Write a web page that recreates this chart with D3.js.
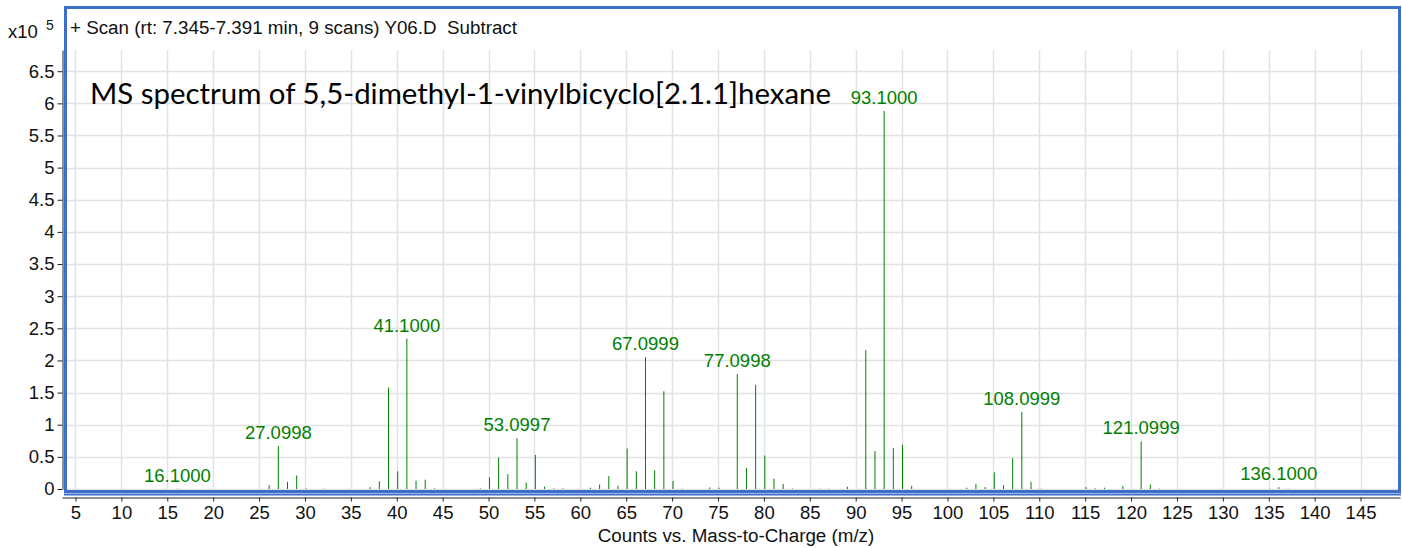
<!DOCTYPE html>
<html>
<head>
<meta charset="utf-8">
<script src="https://cdn.jsdelivr.net/npm/d3@7"></script>
<style>
  body { margin: 0; background: #fff; }
  svg { display: block; font-family: "Liberation Sans", Arial, sans-serif; }
</style>
</head>
<body>
<div class="chart"></div>
<script>
// peak list (m/z, counts in units of 1e5)
var mzValues = [16.1000, 26.1, 27.0998, 28.1, 29.1, 30.1, 32.1,
  37.1, 38.1, 39.1, 40.1, 41.1000, 42.1, 43.1, 44.1,
  49.1, 50.1, 51.1, 52.1, 53.0997, 54.1, 55.1, 56.1, 57.1, 58.1,
  61.1, 62.1, 63.1, 64.1, 65.1, 66.1, 67.0999, 68.1, 69.1, 70.1, 71.1,
  74.1, 75.1, 77.0998, 78.1, 79.1, 80.1, 81.1, 82.1, 83.1, 86.1, 87.1, 89.1,
  91.1, 92.1, 93.1000, 94.1, 95.1, 96.1,
  102.1, 103.1, 104.1, 105.1, 106.1, 107.1, 108.0999, 109.1, 110.1,
  115.1, 116.1, 117.1, 119.1, 121.0999, 122.1, 123.1,
  135.1, 136.1000, 137.1];
var intensities = [0.004, 0.06, 0.67, 0.11, 0.21, 0.01, 0.005,
  0.03, 0.12, 1.58, 0.275, 2.34, 0.13, 0.145, 0.01,
  0.01, 0.18, 0.49, 0.23, 0.79, 0.10, 0.53, 0.036, 0.01, 0.01,
  0.02, 0.07, 0.20, 0.05, 0.63, 0.275, 2.05, 0.29, 1.52, 0.125, 0.005,
  0.025, 0.02, 1.79, 0.33, 1.62, 0.52, 0.16, 0.08, 0.008, 0.005, 0.005, 0.035,
  2.16, 0.59, 5.88, 0.64, 0.69, 0.05,
  0.02, 0.08, 0.03, 0.26, 0.06, 0.48, 1.20, 0.11, 0.005,
  0.03, 0.01, 0.02, 0.045, 0.74, 0.07, 0.005,
  0.005, 0.03, 0.005];
var labelledPeaks = ["16.1000", "27.0998", "41.1000", "53.0997", "67.0999",
  "77.0998", "93.1000", "108.0999", "121.0999", "136.1000"];
var xTicks = [5, 10, 15, 20, 25, 30, 35, 40, 45, 50, 55, 60, 65, 70, 75,
  80, 85, 90, 95, 100, 105, 110, 115, 120, 125, 130, 135, 140, 145];
var yTicks = [0, 0.5, 1, 1.5, 2, 2.5, 3, 3.5, 4, 4.5, 5, 5.5, 6, 6.5];

var svgWidth = 1402;
var svgHeight = 548;
var green = "#008000";
var textSize = 18.5;

var svg = d3.select(".chart")
  .append("svg")
  .attr("width", svgWidth)
  .attr("height", svgHeight);

var x = d3.scaleLinear().domain([3.53, 149.3]).range([62, 1400]);
var y = d3.scaleLinear().domain([0, 6.83]).range([489, 50]);

// grid
svg.append("g").selectAll("line")
  .data(xTicks)
  .enter().append("line")
    .attr("x1", function(d) { return Math.round(x(d)) + 0.5; })
    .attr("x2", function(d) { return Math.round(x(d)) + 0.5; })
    .attr("y1", 50)
    .attr("y2", 490)
    .attr("stroke", "#e2e2e2")
    .attr("stroke-width", 1.5);

svg.append("g").selectAll("line")
  .data(yTicks)
  .enter().append("line")
    .attr("x1", 67)
    .attr("x2", 1398)
    .attr("y1", function(d) { return Math.round(y(d)) + 0.5; })
    .attr("y2", function(d) { return Math.round(y(d)) + 0.5; })
    .attr("stroke", "#e2e2e2")
    .attr("stroke-width", 1.5);

// peaks
var peaks = mzValues.map(function(mz, i) { return { mz: mz, v: intensities[i] }; });

svg.append("g").selectAll("line")
  .data(peaks)
  .enter().append("line")
    .attr("x1", function(d) { return x(d.mz); })
    .attr("x2", function(d) { return x(d.mz); })
    .attr("y1", y(0))
    .attr("y2", function(d) { return y(d.v); })
    .attr("stroke", green)
    .attr("stroke-width", 1);

svg.append("g").selectAll("text")
  .data(peaks.filter(function(d) { return labelledPeaks.indexOf(d.mz.toFixed(4)) >= 0; }))
  .enter().append("text")
    .attr("x", function(d) { return x(d.mz); })
    .attr("y", function(d) { return y(d.v) - 7; })
    .attr("text-anchor", "middle")
    .attr("font-size", textSize)
    .attr("fill", green)
    .text(function(d) { return d.mz.toFixed(4); });

// blue pane frame
svg.append("rect")
  .attr("x", 65.5)
  .attr("y", 7.5)
  .attr("width", 1334)
  .attr("height", 484)
  .attr("fill", "none")
  .attr("stroke", "#3d6fca")
  .attr("stroke-width", 3);
svg.append("line")
  .attr("x1", 64).attr("x2", 1401)
  .attr("y1", 494.5).attr("y2", 494.5)
  .attr("stroke", "#3d6fca")
  .attr("stroke-width", 2);

// axes
var yAxis = d3.axisLeft(y).tickValues(yTicks).tickFormat(d3.format("~g"))
  .tickSize(5).tickSizeOuter(0).tickPadding(3);
var xAxis = d3.axisBottom(x).tickValues(xTicks).tickSize(4).tickSizeOuter(0).tickPadding(4);

var gy = svg.append("g")
  .attr("transform", "translate(62.5,0)")
  .call(yAxis);
var gx = svg.append("g")
  .attr("transform", "translate(0,497.5)")
  .call(xAxis);

[gx, gy].forEach(function(g) {
  g.attr("font-family", null).attr("font-size", textSize);
  g.selectAll("text").attr("fill", "#111");
  g.selectAll("line, path").attr("stroke", "#222");
});

// texts
svg.append("text")
  .attr("x", 70)
  .attr("y", 34)
  .attr("font-size", 18.8)
  .attr("fill", "#111")
  .style("white-space", "pre")
  .text("+ Scan (rt: 7.345-7.391 min, 9 scans) Y06.D  Subtract");

svg.append("text")
  .attr("x", 8)
  .attr("y", 38)
  .attr("font-size", textSize)
  .attr("fill", "#111")
  .text("x10");
svg.append("text")
  .attr("x", 46)
  .attr("y", 30)
  .attr("font-size", 14)
  .attr("fill", "#111")
  .text("5");

svg.append("text")
  .attr("x", 736)
  .attr("y", 542)
  .attr("text-anchor", "middle")
  .attr("font-size", 18.8)
  .attr("fill", "#111")
  .text("Counts vs. Mass-to-Charge (m/z)");

svg.append("text")
  .attr("x", 90)
  .attr("y", 104)
  .attr("font-family", "Lato, 'Open Sans', sans-serif")
  .attr("font-size", 29.4)
  .attr("fill", "#000")
  .text("MS spectrum of 5,5-dimethyl-1-vinylbicyclo[2.1.1]hexane");
</script>
</body>
</html>
